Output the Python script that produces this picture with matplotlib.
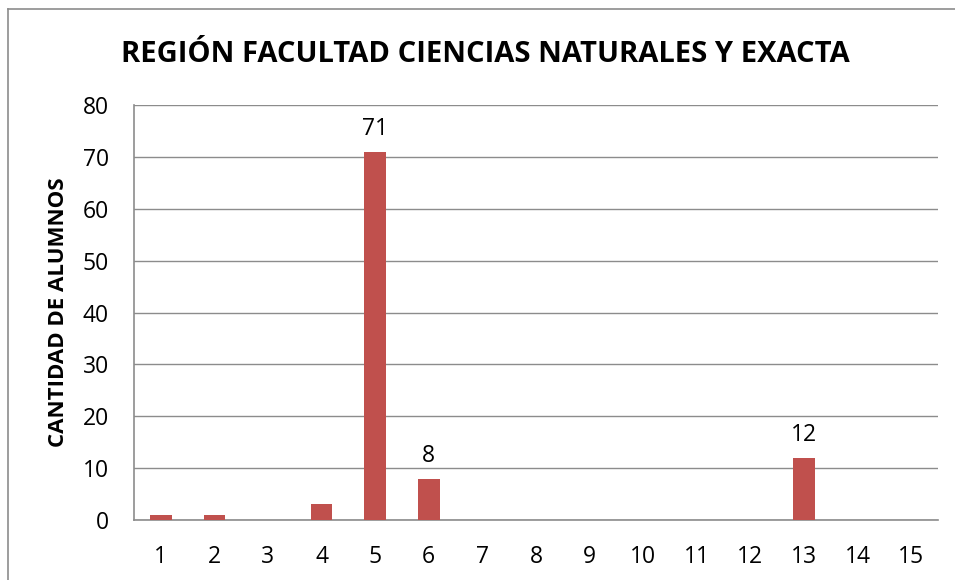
import matplotlib
matplotlib.use("Agg")
import matplotlib.pyplot as plt
from matplotlib.lines import Line2D

categories = [str(i) for i in range(1, 16)]
values = [1, 1, 0, 3, 71, 8, 0, 0, 0, 0, 0, 0, 12, 0, 0]
labeled = {"5": 71, "6": 8, "13": 12}
yticks = [0, 10, 20, 30, 40, 50, 60, 70, 80]

plt.rcParams['font.family'] = ['Open Sans', 'DejaVu Sans']

fig = plt.figure(figsize=(9.55, 5.8), dpi=100)
W, H = 955, 580
ax = fig.add_axes([134 / W, (580 - 520) / H, (938 - 134) / W, (520 - 105) / H])

x = list(range(len(categories)))
ax.bar(x, values, width=0.4, color='#C0504D', zorder=3)
for i, c in enumerate(categories):
    if c in labeled:
        ax.text(i, values[i] + 2.0, str(labeled[c]), ha='center', va='bottom',
                fontsize=16.5, color='black')

ax.set_xlim(-0.5, len(categories) - 0.5)
ax.set_ylim(0, 80)
ax.set_yticks(yticks)
ax.set_xticks(x)
ax.set_xticklabels(categories, fontsize=16.5)
ax.set_yticklabels([str(t) for t in yticks], fontsize=16.5)
ax.tick_params(axis='both', length=0)
ax.tick_params(axis='x', pad=18)
ax.tick_params(axis='y', pad=18)
ax.grid(axis='y', color='#8C8C8C', linewidth=1.0, zorder=0)
for s in ['top', 'right']:
    ax.spines[s].set_visible(False)
for s in ['left', 'bottom']:
    ax.spines[s].set_color('#8C8C8C')
    ax.spines[s].set_linewidth(1.2)

fig.text(485 / W, 1 - 55 / H, 'REGIÓN FACULTAD CIENCIAS NATURALES Y EXACTA',
         ha='center', va='center', fontsize=21, fontweight='bold')
fig.text(58 / W, 1 - 312 / H, 'CANTIDAD DE ALUMNOS', rotation=90,
         ha='center', va='center', fontsize=16, fontweight='bold')

# outer chart border (top and left)
fig.add_artist(Line2D([8 / W, 8 / W], [0, 1 - 9 / H], transform=fig.transFigure,
                      color='#8C8C8C', linewidth=1.2))
fig.add_artist(Line2D([8 / W, 1], [1 - 9 / H, 1 - 9 / H], transform=fig.transFigure,
                      color='#8C8C8C', linewidth=1.2))

fig.savefig('out.png', dpi=100)
